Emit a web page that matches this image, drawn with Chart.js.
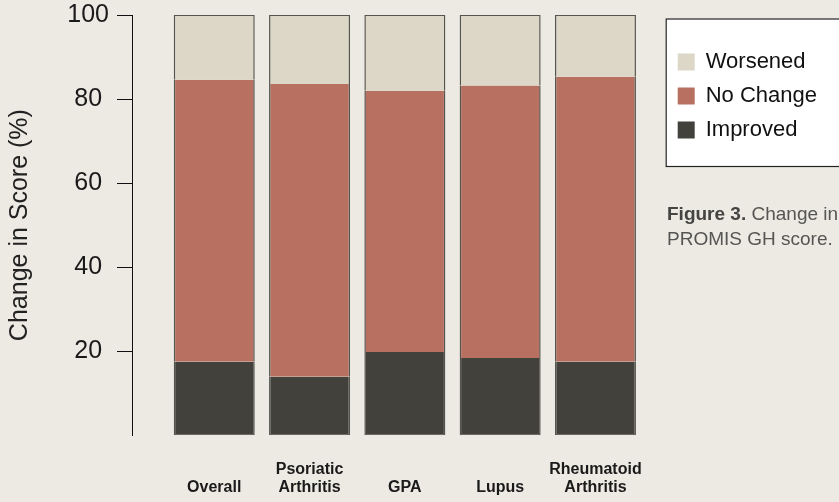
<!DOCTYPE html>
<html>
<head>
<meta charset="utf-8">
<script src="https://cdn.jsdelivr.net/npm/chart.js@4.4.0/dist/chart.umd.min.js"></script>
<style>
  html, body { margin: 0; padding: 0; background: #EDEAE3; }
  #wrap { position: relative; width: 839px; height: 502px; }
  #caption { position: absolute; left: 667px; top: 201px; font: 19px 'Liberation Sans', Arial, sans-serif; line-height: 25px; color: #555553; white-space: nowrap; }
  #caption b { color: #444442; }
</style>
</head>
<body>
<div id="wrap">
  <canvas id="chart" width="839" height="502"></canvas>
  <div id="caption"><b>Figure 3.</b> Change in<br>PROMIS GH score.</div>
</div>
<script>
// values (percent of patients)
const categories = ['Overall', 'Psoriatic Arthritis', 'GPA', 'Lupus', 'Rheumatoid Arthritis'];
const tickLabels = [['', 'Overall'], ['Psoriatic', 'Arthritis'], ['', 'GPA'], ['', 'Lupus'], ['Rheumatoid', 'Arthritis']];
const improved = [17.5, 13.9, 19.8, 18.4, 17.5];
const noChange = [67.1, 69.7, 62.2, 64.8, 67.8];
const worsened = [15.4, 16.4, 18.0, 16.8, 14.7];
const yTicks = [20, 40, 60, 80, 100];

Chart.defaults.font.family = "'Liberation Sans', Arial, sans-serif";
Chart.defaults.color = '#1a1a1a';

const edge = '#55554f';
function points(arr) { return arr.map((v, i) => ({ x: i, y: v })); }

// white box behind the legend
const legendBox = {
  id: 'legendBox',
  beforeDraw(chart) {
    const lg = chart.legend;
    const hb = lg.legendHitBoxes;
    if (!hb || !hb.length) return;
    const ctx = chart.ctx;
    const top = hb[0].top - 32.5;
    const bottom = hb[hb.length - 1].top + hb[hb.length - 1].height + 25;
    ctx.save();
    ctx.fillStyle = '#ffffff';
    ctx.fillRect(lg.left, top, chart.width - lg.left + 2, bottom - top);
    ctx.strokeStyle = '#222';
    ctx.lineWidth = 1.2;
    ctx.strokeRect(lg.left + 0.5, top + 0.5, chart.width - lg.left + 2, bottom - top);
    ctx.restore();
  }
};

new Chart(document.getElementById('chart'), {
  type: 'bar',
  data: {
    datasets: [
      { label: 'Improved', data: points(improved), backgroundColor: '#42413B', borderColor: edge,
        borderWidth: { left: 1.5, right: 1.5, top: 0, bottom: 1 }, borderSkipped: false },
      { label: 'No Change', data: points(noChange), backgroundColor: '#B87060', borderColor: edge,
        borderWidth: { left: 1.5, right: 1.5, top: 0, bottom: 0 }, borderSkipped: false },
      { label: 'Worsened', data: points(worsened), backgroundColor: '#DCD7C7', borderColor: edge,
        borderWidth: { left: 1.5, right: 1.5, top: 1, bottom: 0 }, borderSkipped: false }
    ]
  },
  options: {
    responsive: false,
    animation: false,
    categoryPercentage: 1,
    barPercentage: 0.85,
    layout: { padding: { top: -8, right: 12, bottom: -20, left: 0 } },
    plugins: {
      tooltip: { enabled: false },
      legend: {
        position: 'right',
        align: 'start',
        reverse: true,
        title: { display: true, text: '', font: { size: 10 }, padding: { top: 35, bottom: 0 } },
        labels: {
          boxWidth: 17,
          boxHeight: 17,
          padding: 12,
          color: '#111',
          font: { size: 22 },
          generateLabels(chart) {
            return Chart.defaults.plugins.legend.labels.generateLabels(chart).map(l => ({ ...l, lineWidth: 0 }));
          }
        }
      }
    },
    scales: {
      x: {
        type: 'linear',
        stacked: true,
        offset: false,
        min: -0.863,
        max: 4.737,
        grid: { display: false, drawTicks: false, offset: false },
        border: { display: false },
        afterBuildTicks(scale) { scale.ticks = categories.map((c, i) => ({ value: i })); },
        ticks: {
          autoSkip: false,
          maxRotation: 0,
          padding: 25,
          color: '#1a1a1a',
          font: { size: 16, weight: 'bold', lineHeight: 1.15 },
          callback(v) { return tickLabels[v]; }
        }
      },
      y: {
        stacked: true,
        min: 0,
        max: 100,
        afterBuildTicks(scale) { scale.ticks = yTicks.map(v => ({ value: v })); },
        afterFit(scale) { scale.width = 132; },
        grid: { drawOnChartArea: false, tickLength: 15, color: '#111', lineWidth: 1 },
        border: { color: '#111', width: 1 },
        ticks: { crossAlign: 'center', padding: 8, color: '#1a1a1a', font: { size: 25, lineHeight: 0.56 } },
        title: { display: true, text: 'Change in Score (%)', color: '#222', font: { size: 25 }, padding: { top: 5, bottom: 0 } }
      }
    }
  },
  plugins: [legendBox]
});
</script>
</body>
</html>
